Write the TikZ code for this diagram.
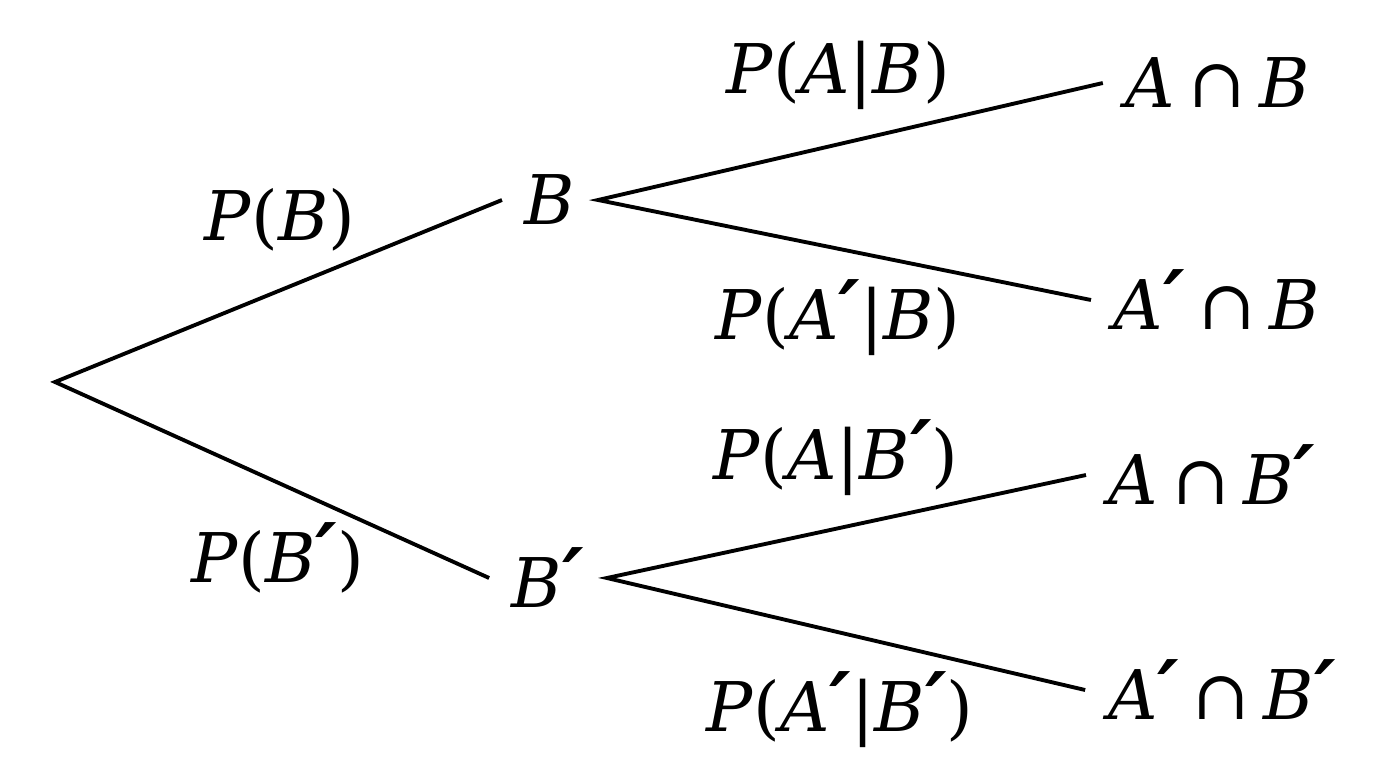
\documentclass[tikz,border=0pt]{standalone}
\usepackage{fontspec}
\setmainfont{DejaVu Serif}
\usepackage{tikz}

\newcommand{\mi}[1]{\textit{#1}}
\newcommand{\pr}{\scalebox{1.2}{\textbf{\textit{′}}}}
\newcommand{\cp}{\hspace{0.2em}∩\hspace{0.2em}}

\begin{document}
\begin{tikzpicture}[x=0.02cm, y=-0.02cm,
    every node/.style={font=\fontsize{39}{44}\selectfont},
    event/.style={inner sep=0.45cm},
    branch/.style={line width=2.2pt}]
  \useasboundingbox (0,0) rectangle (1376,768);
  % tree nodes
  \coordinate (root) at (55,382);
  \node[event] (b)    at (550,200) {\mi{B}};
  \node[event] (bc)   at (548,578) {\mi{B}\pr};
  \node[event] (ab)   at (1218,83)  {\mi{A}\cp\mi{B}};
  \node[event] (acb)  at (1217,300) {\mi{A}\pr\cp\mi{B}};
  \node[event] (abc)  at (1212,475) {\mi{A}\cp\mi{B}\pr};
  \node[event] (acbc) at (1222,690) {\mi{A}\pr\cp\mi{B}\pr};
  % branches
  \draw[branch] (b.west) -- (root) -- (bc.west);
  \draw[branch] (ab.west) -- (b.east) -- (acb.west);
  \draw[branch] (abc.west) -- (bc.east) -- (acbc.west);
  % probabilities
  \node (pb)    at (280,220) {\mi{P}(\mi{B})};
  \node (pbc)   at (278,558) {\mi{P}(\mi{B}\pr)};
  \node (pab)   at (838,75)  {\mi{P}(\mi{A}|\mi{B})};
  \node (pacb)  at (838,318) {\mi{P}(\mi{A}\pr|\mi{B})};
  \node (pabc)  at (836,458) {\mi{P}(\mi{A}|\mi{B}\pr)};
  \node (pacbc) at (840,710) {\mi{P}(\mi{A}\pr|\mi{B}\pr)};
\end{tikzpicture}
\end{document}
